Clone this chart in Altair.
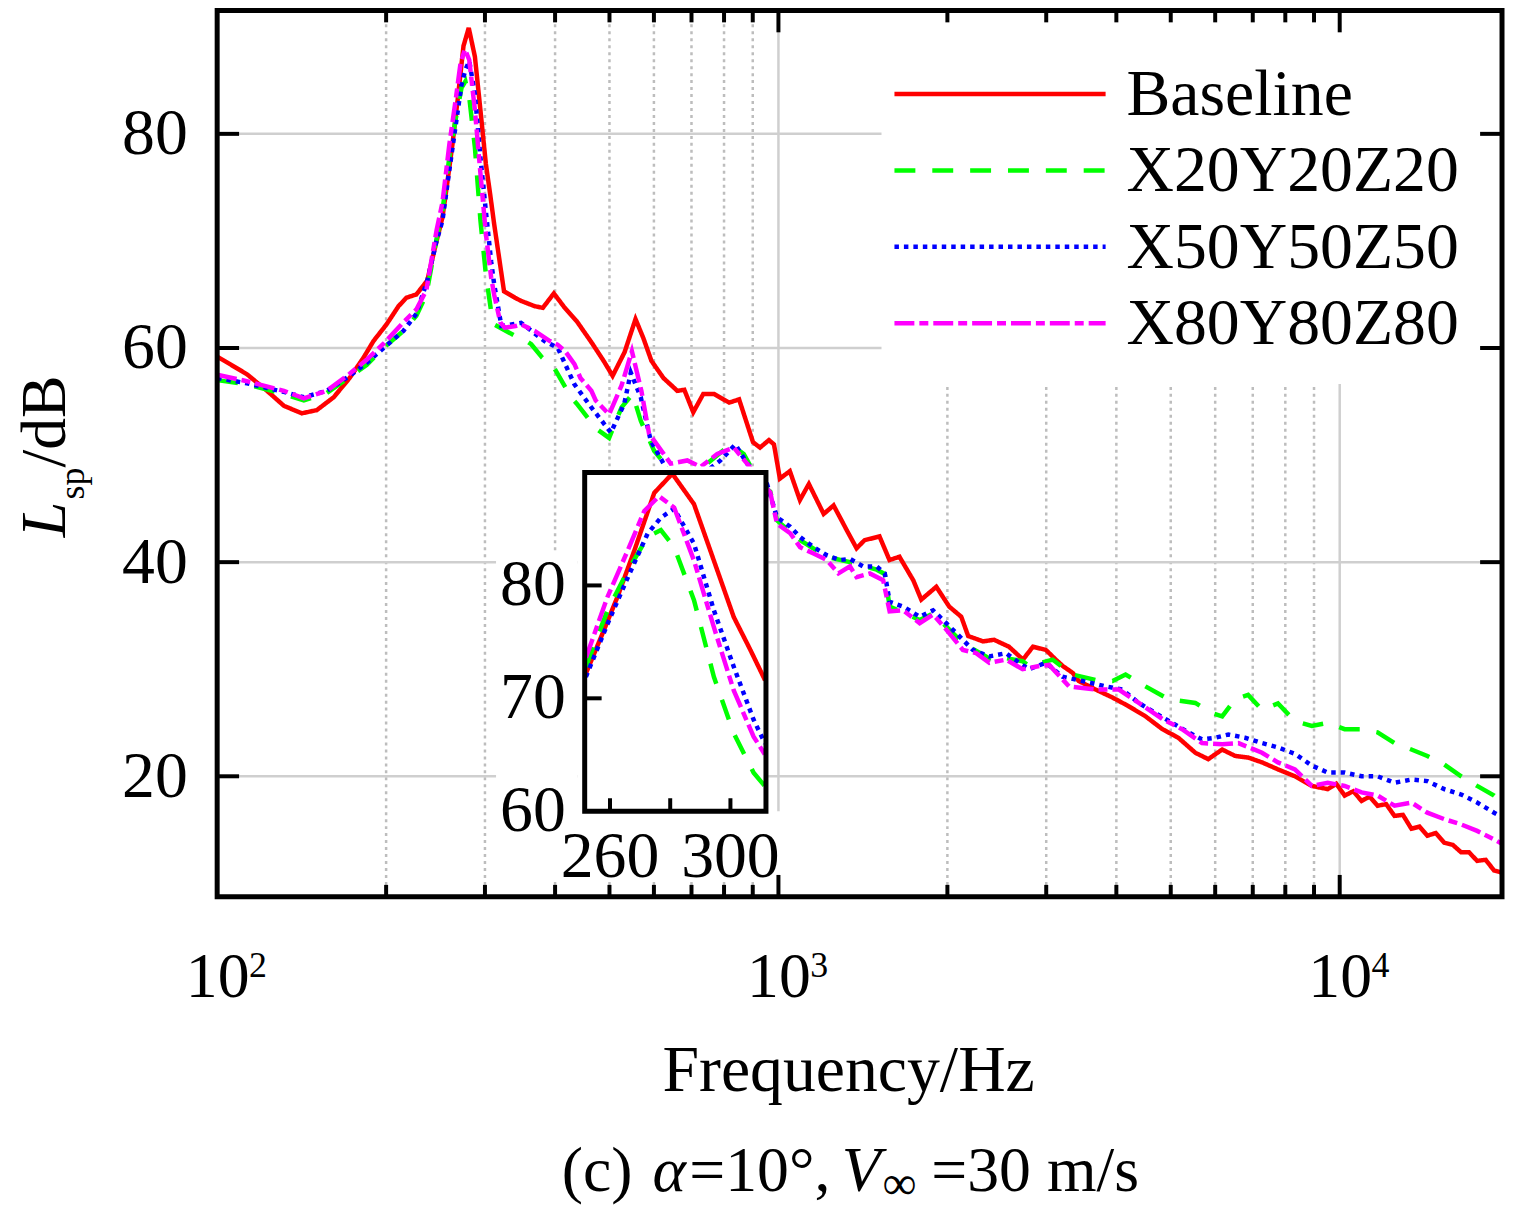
import altair as alt
import pandas as pd

# ---------------- data ----------------
names = ["Baseline", "X20Y20Z20", "X50Y50Z50", "X80Y80Z80"]
colors = ["#ff0000", "#00ff00", "#0000ff", "#ff00ff"]
dashes = [[1, 0], [21, 17], [4.5, 5], [20, 5, 9, 5]]

# [frequency Hz, L_sp dB]
red_lo = [[100, 59.2], [113, 57.55], [122.7, 56.0], [131.5, 54.6], [141.5, 53.9], [150.5, 54.2],
          [161.3, 55.4], [172.2, 57.2], [182.3, 59.1], [189.9, 60.65], [200.3, 62.2], [210.4, 63.9],
          [217.4, 64.7], [226.4, 65.0], [236.8, 66.3], [244.7, 69.5]]
red_pk = [[252.0, 72.2], [257.0, 75.4], [262.5, 79.0], [268.1, 83.1], [274.7, 88.2], [280.7, 89.9],
          [287.9, 87.2], [294.5, 82.2], [301.1, 77.2], [306.6, 74.3], [311.5, 71.6]]
red_hi = [[324.4, 65.3], [339.3, 64.7], [347.8, 64.4], [368.2, 63.9], [380.4, 63.75], [398.0, 65.1],
          [416.2, 63.75], [437.2, 62.5], [464.8, 60.5], [488.1, 58.8], [506.5, 57.4], [531.9, 59.6],
          [556.4, 62.7], [574.8, 60.9], [593.9, 58.8], [623.8, 57.2], [660.5, 56.0], [679.7, 56.1],
          [705.1, 54.0], [734.6, 55.7], [768.3, 55.7], [816.9, 54.9], [851.0, 55.2], [901.0, 51.2],
          [927.2, 50.7], [961.8, 51.4], [981.8, 51.0], [1006, 47.8], [1048, 48.5], [1092, 45.8],
          [1133, 47.3], [1204, 44.5], [1254, 45.3], [1323, 43.0], [1378, 41.3], [1424, 42.05],
          [1514, 42.4], [1577, 40.2], [1643, 40.5], [1739, 38.3], [1797, 36.5], [1911, 37.7],
          [2015, 35.85], [2117, 34.9], [2178, 33.1], [2316, 32.6], [2422, 32.75], [2575, 32.1],
          [2727, 30.9], [2841, 32.1], [2996, 31.8], [3120, 30.9], [3211, 30.3], [3345, 29.65],
          [3428, 28.9], [3675, 28.1], [3939, 27.35], [4205, 26.55], [4508, 25.6], [4832, 24.4],
          [5158, 23.6], [5530, 22.2], [5831, 21.6], [6175, 22.5], [6512, 21.9], [6867, 21.75],
          [7271, 21.3], [7762, 20.65], [8321, 20.0], [8919, 19.1], [9521, 18.8], [9860, 19.3],
          [10206, 18.2], [10570, 18.6], [10940, 17.7], [11300, 18.1], [11681, 17.25], [12100, 17.4],
          [12520, 16.3], [12960, 16.4], [13420, 15.1], [13870, 15.3], [14326, 14.45], [14830, 14.7],
          [15356, 13.8], [15900, 13.6], [16459, 12.9], [17000, 12.9], [17574, 12.1], [18200, 12.2],
          [18838, 11.2], [19462, 11.0]]

green_lo = [[100, 57.0], [113, 56.6], [131.5, 55.7], [142.7, 55.1], [156.8, 55.8], [172.2, 57.3],
            [184.6, 58.4], [197.9, 60.0], [214.7, 61.6], [226.4, 63.0], [235.9, 65.0], [246.0, 70.2]]
green_pk = [[252.0, 72.8], [259.2, 77.8], [265.9, 81.3], [272.5, 84.3], [276.9, 84.9], [281.3, 83.4],
            [287.9, 78.7], [294.5, 71.9], [301.1, 66.9], [307.7, 63.4], [311.5, 62.2]]
green_hi = [[340.2, 61.1], [347.8, 61.0], [362.7, 60.35], [379.5, 59.1], [398.0, 58.2], [427.0, 55.4],
            [437.2, 54.8], [464.2, 53.05], [472.5, 52.5], [499.2, 51.6], [525.4, 54.45], [549.6, 55.7],
            [568.5, 53.2], [600.5, 50.4], [634.1, 48.9], [688.1, 48.25], [746.6, 49.2], [821.3, 51.0],
            [867.4, 50.1], [928, 47.3], [967.1, 46.6], [993.9, 43.9], [1093, 42.05], [1219, 40.5],
            [1341, 40.0], [1496, 39.3], [1547, 38.9], [1578, 35.85], [1785, 34.6], [1886, 35.2],
            [2131, 32.45], [2376, 31.0], [2442, 31.2], [2723, 30.75], [2795, 30.3], [3079, 30.9],
            [3341, 29.5], [3675, 29.0], [3939, 28.9], [4154, 29.5], [4508, 28.4], [4958, 27.2],
            [5530, 26.85], [5920, 25.9], [6175, 25.6], [6512, 27.2], [6867, 27.6], [7271, 26.2],
            [7762, 26.8], [8321, 25.15], [8919, 24.7], [9521, 25.0], [10206, 24.4], [10940, 24.4],
            [11681, 24.1], [12520, 23.1], [13420, 22.5], [14326, 21.9], [15356, 21.1], [16459, 20.0],
            [17574, 19.1], [18838, 18.2], [19462, 17.55]]

blue_lo = [[100, 57.2], [113, 56.7], [131.5, 55.9], [142.7, 55.4], [156.8, 56.0], [172.2, 57.4],
           [184.6, 58.6], [197.9, 60.0], [214.7, 61.6], [226.4, 63.2], [236.8, 66.3], [246.0, 70.0]]
blue_pk = [[252.0, 71.9], [259.2, 76.6], [265.9, 80.7], [272.5, 84.6], [276.9, 86.0], [281.3, 86.8],
           [287.9, 83.7], [294.5, 77.8], [301.1, 72.8], [307.7, 68.1], [311.5, 66.0]]
blue_hi = [[320.9, 62.05], [347.8, 62.35], [383.1, 60.65], [404.5, 60.0], [433.1, 56.6], [464.2, 54.45],
           [502.9, 52.1], [531.3, 54.8], [545.7, 57.7], [568.5, 55.4], [592.2, 51.35], [634.1, 48.55],
           [688.1, 48.55], [746.6, 48.55], [788.4, 49.5], [838.2, 51.0], [879.3, 49.2], [954.1, 47.3],
           [993.9, 44.2], [1049.4, 43.3], [1093, 42.35], [1155, 41.4], [1219, 40.65], [1287, 40.2],
           [1341, 40.3], [1416, 39.6], [1496, 39.6], [1547, 38.95], [1578, 36.3], [1668, 35.85],
           [1785, 34.9], [1886, 35.5], [1991, 34.3], [2131, 32.75], [2220, 31.8], [2376, 31.2],
           [2544, 31.5], [2683, 30.6], [2795, 30.0], [2996, 30.6], [3207, 29.3], [3480, 28.9],
           [3828, 28.4], [4098, 28.1], [4386, 26.85], [4696, 25.9], [5027, 25.0], [5379, 24.1],
           [5682, 23.45], [6000, 23.6], [6335, 23.9], [6782, 23.6], [7271, 23.1], [7762, 22.7],
           [8321, 22.1], [8919, 21.0], [9521, 20.35], [10206, 20.35], [10940, 20.0], [11681, 20.0],
           [12520, 19.4], [13420, 19.7], [14326, 19.55], [15356, 18.8], [16459, 18.3], [17574, 17.55],
           [18838, 16.6], [19462, 16.2]]

magenta_lo = [[100, 57.5], [113, 56.9], [131.5, 56.0], [142.7, 55.3], [156.8, 56.0], [172.2, 57.6],
              [184.6, 58.9], [197.9, 60.4], [214.7, 62.4], [226.4, 63.6], [235.9, 65.4], [246.0, 71.0]]
magenta_pk = [[252.0, 73.6], [259.2, 79.0], [265.9, 83.1], [271.4, 86.6], [276.3, 87.9], [281.3, 86.9],
              [287.9, 82.2], [294.5, 76.3], [301.1, 70.7], [307.7, 66.6], [311.5, 65.0]]
magenta_hi = [[319.5, 62.4], [325.3, 61.9], [340.2, 62.05], [347.8, 62.2], [367.9, 61.6], [391.5, 60.65],
              [404.5, 60.3], [416.9, 59.7], [433.1, 58.5], [443.8, 57.2], [464.2, 56.0], [472.5, 55.1],
              [499.2, 53.8], [525.4, 56.5], [548.2, 59.7], [569.9, 56.0], [588.1, 52.0], [600.5, 51.35],
              [642.7, 49.2], [688.1, 49.5], [726.5, 48.9], [778, 50.1], [832.7, 50.7], [879.3, 49.2],
              [967.1, 46.5], [993.9, 43.6], [1049.4, 42.7], [1093, 41.4], [1155, 40.8], [1219, 40.2],
              [1279, 38.95], [1341, 39.6], [1378, 38.6], [1455, 38.95], [1537, 38.3], [1578, 35.4],
              [1668, 35.5], [1785, 34.3], [1886, 35.1], [1991, 33.7], [2131, 31.8], [2250, 31.5],
              [2376, 30.6], [2544, 30.9], [2723, 30.0], [2915, 30.3], [3036, 30.4], [3295, 28.4],
              [3675, 28.1], [4042, 28.1], [4386, 26.85], [4832, 25.35], [5237, 24.4], [5682, 23.1],
              [6175, 23.0], [6600, 23.1], [7271, 22.2], [7762, 21.3], [8321, 20.65], [8919, 19.1],
              [9521, 19.4], [10206, 19.1], [10940, 18.5], [11681, 18.2], [12520, 17.25], [13420, 17.55],
              [14326, 16.6], [15356, 16.0], [16459, 15.5], [17574, 14.9], [18838, 14.1], [19462, 13.7]]

x_domain = [100, 19462]
y_domain = [8.74, 91.53]
inset_x_domain = [251.6, 311.8]
inset_y_domain = [60, 90]

x_major = [1000, 10000]
x_minor = [200, 300, 400, 500, 600, 700, 800, 900, 2000, 3000, 4000, 5000, 6000, 7000, 8000, 9000]
y_major = [20, 40, 60, 80]
x_label_vals = [100, 1000, 10000]
x_label_exps = ["2", "3", "4"]
inset_x_ticks = [260, 280, 300]
inset_x_labels = [260, 300]
inset_y_ticks = [70, 80]
inset_y_labels = [60, 70, 80]

# ---------------- tables ----------------
parts = {
    "Baseline": (red_lo, red_pk, red_hi),
    "X20Y20Z20": (green_lo, green_pk, green_hi),
    "X50Y50Z50": (blue_lo, blue_pk, blue_hi),
    "X80Y80Z80": (magenta_lo, magenta_pk, magenta_hi),
}
main_rows, inset_rows = [], []
for n in names:
    lo, pk, hi = parts[n]
    for f, d in lo + pk + hi:
        main_rows.append({"series": n, "f": f, "db": d})
    for f, d in pk:
        inset_rows.append({"series": n, "f": f, "db": d})
df_main = pd.DataFrame(main_rows)
df_inset = pd.DataFrame(inset_rows)
one = pd.DataFrame({"k": [0]})

# ---------------- layout ----------------
W, H = 1290, 890
FONT = "Liberation Serif"
GRID = "#cfcfcf"
GRID_DOT = "#bdbdbd"
LW = 4.5

xs = alt.Scale(type="log", domain=x_domain, nice=False)
ys = alt.Scale(domain=y_domain, nice=False, zero=False)
ixs = alt.Scale(domain=inset_x_domain, range=[369, 551], nice=False, zero=False)
iys = alt.Scale(domain=inset_y_domain, range=[804, 464], nice=False, zero=False)

color = alt.Color("series:N", scale=alt.Scale(domain=names, range=colors), legend=None)
dash = alt.StrokeDash("series:N", scale=alt.Scale(domain=names, range=dashes), legend=None)


def rect(x, x2, y, y2, **kw):
    return alt.Chart(one).mark_rect(**kw).encode(
        x=alt.value(x), x2=alt.value(x2), y=alt.value(y), y2=alt.value(y2))


def text(s, x, y, size=66, **kw):
    return alt.Chart(one).mark_text(text=s, font=FONT, fontSize=size, color="black", **kw).encode(
        x=alt.value(x), y=alt.value(y))


grid_minor = alt.Chart(pd.DataFrame({"f": x_minor})).mark_rule(
    color=GRID_DOT, strokeWidth=2.5, strokeDash=[3, 4]).encode(
    x=alt.X("f:Q", scale=xs, axis=None), y=alt.value(0), y2=alt.value(H))
grid_major_x = alt.Chart(pd.DataFrame({"f": x_major})).mark_rule(
    color=GRID, strokeWidth=2.5).encode(
    x=alt.X("f:Q", scale=xs, axis=None), y=alt.value(0), y2=alt.value(H))
grid_major_y = alt.Chart(pd.DataFrame({"v": y_major})).mark_rule(
    color=GRID, strokeWidth=2.5).encode(
    y=alt.Y("v:Q", scale=ys, axis=None), x=alt.value(0), x2=alt.value(W))

legend_bg = rect(667, W, 0, 375, color="white")

lines = alt.Chart(df_main).mark_line(strokeWidth=LW, clip=True).encode(
    x=alt.X("f:Q", scale=xs, axis=alt.Axis(
        orient="bottom", values=x_label_vals, labelExpr="'10'", labelFont=FONT, labelFontSize=64,
        labelColor="black", labelBaseline="alphabetic", labelPadding=100, labelFlush=False,
        labelOverlap=False, ticks=False, tickSize=0, domain=False, grid=False, title=None)),
    y=alt.Y("db:Q", scale=ys, axis=alt.Axis(
        orient="left", values=y_major, labelFont=FONT, labelFontSize=66, labelColor="black",
        labelPadding=30, ticks=False, tickSize=0, domain=False, grid=False, title=None)),
    color=color, strokeDash=dash)

sup = alt.Chart(pd.DataFrame({"f": x_label_vals, "t": x_label_exps})).mark_text(
    font=FONT, fontSize=36, color="black", align="left", baseline="alphabetic", dx=32).encode(
    x=alt.X("f:Q", scale=xs, axis=None), y=alt.value(970), text="t:N")

# legend
leg_df = pd.DataFrame({"series": names})
leg_lines = alt.Chart(leg_df).mark_rule(strokeWidth=LW).encode(
    x=alt.value(680), x2=alt.value(892),
    y=alt.Y("series:N", scale=alt.Scale(type="point", domain=names, range=[84, 314], padding=0), axis=None),
    color=color, strokeDash=dash)
leg_text = alt.Chart(leg_df).mark_text(
    font=FONT, fontSize=66, color="black", align="left", baseline="alphabetic").encode(
    x=alt.value(913),
    y=alt.Y("series:N", scale=alt.Scale(type="point", domain=names, range=[105, 335], padding=0), axis=None),
    text="series:N")

# inset
inset_bg1 = rect(280, 362, 544, 872, color="white")
inset_bg2 = rect(362, 553, 458, 872, color="white")
inset_bg3 = rect(362, 574, 804, 872, color="white")
inset_lines = alt.Chart(df_inset).mark_line(strokeWidth=LW).encode(
    x=alt.X("f:Q", scale=ixs, axis=None), y=alt.Y("db:Q", scale=iys, axis=None),
    color=color, strokeDash=dash)
inset_frame = rect(369, 551, 464, 804, fillOpacity=0, stroke="black", strokeWidth=5)
inset_xt = alt.Chart(pd.DataFrame({"f": inset_x_ticks})).mark_rule(color="black", strokeWidth=4).encode(
    x=alt.X("f:Q", scale=ixs, axis=None), y=alt.value(804), y2=alt.value(791))
inset_yt = alt.Chart(pd.DataFrame({"v": inset_y_ticks})).mark_rule(color="black", strokeWidth=4).encode(
    y=alt.Y("v:Q", scale=iys, axis=None), x=alt.value(369), x2=alt.value(386))
inset_xl = alt.Chart(pd.DataFrame({"f": inset_x_labels, "t": [str(v) for v in inset_x_labels]})).mark_text(
    font=FONT, fontSize=66, color="black", align="center", baseline="alphabetic").encode(
    x=alt.X("f:Q", scale=ixs, axis=None), y=alt.value(870), text="t:N")
inset_yl = alt.Chart(pd.DataFrame({"v": inset_y_labels, "t": [str(v) for v in inset_y_labels]})).mark_text(
    font=FONT, fontSize=66, color="black", align="right", baseline="middle").encode(
    y=alt.Y("v:Q", scale=iys, axis=None), x=alt.value(350), text="t:N")

# main ticks (inward) and frame
tk = dict(color="black", strokeWidth=4)
xminor_df = pd.DataFrame({"f": x_minor})
xmajor_df = pd.DataFrame({"f": x_major})
ymajor_df = pd.DataFrame({"v": y_major})
t_bmin = alt.Chart(xminor_df).mark_rule(**tk).encode(
    x=alt.X("f:Q", scale=xs, axis=None), y=alt.value(H), y2=alt.value(H - 12))
t_tmin = alt.Chart(xminor_df).mark_rule(**tk).encode(
    x=alt.X("f:Q", scale=xs, axis=None), y=alt.value(0), y2=alt.value(12))
t_bmaj = alt.Chart(xmajor_df).mark_rule(**tk).encode(
    x=alt.X("f:Q", scale=xs, axis=None), y=alt.value(H), y2=alt.value(H - 22))
t_tmaj = alt.Chart(xmajor_df).mark_rule(**tk).encode(
    x=alt.X("f:Q", scale=xs, axis=None), y=alt.value(0), y2=alt.value(22))
t_l = alt.Chart(ymajor_df).mark_rule(**tk).encode(
    y=alt.Y("v:Q", scale=ys, axis=None), x=alt.value(0), x2=alt.value(22))
t_r = alt.Chart(ymajor_df).mark_rule(**tk).encode(
    y=alt.Y("v:Q", scale=ys, axis=None), x=alt.value(W - 22), x2=alt.value(W))
frame = rect(0, W, 0, H, fillOpacity=0, stroke="black", strokeWidth=5)

# titles
x_title = text("Frequency/Hz", 634, 1085, align="center", baseline="alphabetic")
y_t1 = text("L", -153, 529, size=64, angle=270, align="left", baseline="alphabetic", fontStyle="italic")
y_t2 = text("sp", -134, 491, size=36, angle=270, align="left", baseline="alphabetic")
y_t3 = text("/dB", -153, 459, size=64, angle=270, align="left", baseline="alphabetic")
c1 = text("(c)", 346, 1185, size=64, align="left", baseline="alphabetic")
c2 = text("\u03b1", 437, 1185, size=64, align="left", baseline="alphabetic", fontStyle="italic")
c3 = text("=10\u00b0,", 474, 1185, size=64, align="left", baseline="alphabetic")
c4 = text("V", 627, 1185, size=64, align="left", baseline="alphabetic", fontStyle="italic")
c5 = text("\u221e", 668, 1193, size=48, align="left", baseline="alphabetic")
c6 = text("=30 m/s", 717, 1185, size=64, align="left", baseline="alphabetic")

chart = alt.layer(
    grid_minor, grid_major_x, grid_major_y, legend_bg,
    lines, sup,
    inset_bg1, inset_bg2, inset_bg3, inset_lines, inset_frame, inset_xt, inset_yt, inset_xl, inset_yl,
    leg_lines, leg_text,
    t_bmin, t_tmin, t_bmaj, t_tmaj, t_l, t_r, frame,
    x_title, y_t1, y_t2, y_t3, c1, c2, c3, c4, c5, c6,
).resolve_scale(
    x="independent", y="independent"
).properties(
    width=W, height=H,
    padding={"left": 210, "top": 0, "right": 4, "bottom": 315},
    autosize=alt.AutoSizeParams(type="none"),
    background="white",
).configure_view(strokeOpacity=0)

chart.save("out.html", embed_options={"renderer": "svg", "actions": False})
